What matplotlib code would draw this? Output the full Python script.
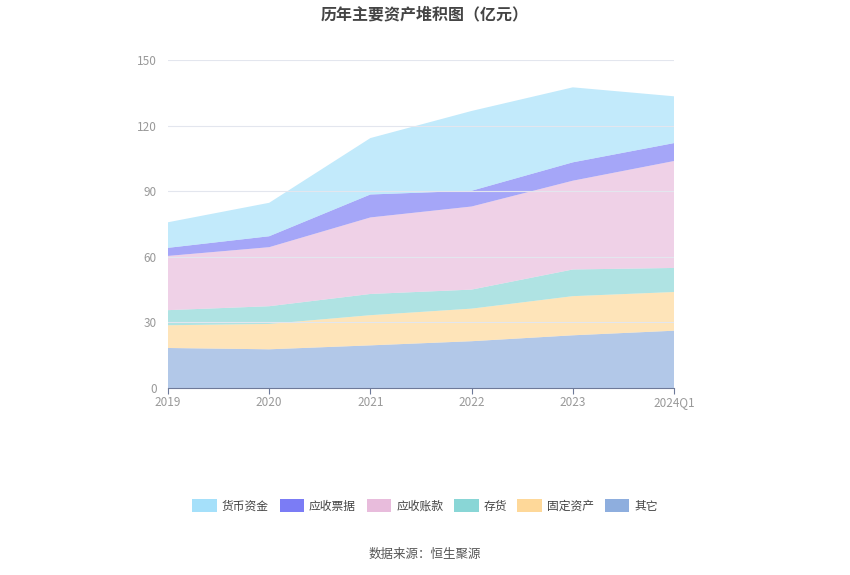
import matplotlib
matplotlib.use('Agg')
import matplotlib.pyplot as plt
from matplotlib.patches import Patch
import numpy as np

plt.rcParams['font.family'] = ['Noto Sans CJK SC', 'DejaVu Sans']

years = ['2019', '2020', '2021', '2022', '2023', '2024Q1']
# stack order from bottom to top
other = [18.3, 17.7, 19.5, 21.4, 24.1, 26.2]
fixed_assets = [10.4, 11.6, 13.8, 14.9, 17.9, 17.7]
inventory = [6.9, 8.1, 9.7, 8.7, 12.2, 11.0]
receivables = [24.8, 27.0, 35.0, 38.0, 40.6, 48.9]
notes_receivable = [3.7, 5.0, 10.5, 7.2, 8.4, 8.2]
cash = [11.7, 15.3, 25.8, 36.5, 34.3, 21.4]

series_names = ['其它', '固定资产', '存货', '应收账款', '应收票据', '货币资金']
series_values = [other, fixed_assets, inventory, receivables, notes_receivable, cash]
colors = ['#8eaede', '#fed899', '#89d6d6', '#e8bcdc', '#7b7cf5', '#a5e0fa']

fig = plt.figure(figsize=(8.5, 5.75), dpi=100)
ax = fig.add_axes([168 / 850, 1 - 388 / 575, (674 - 168) / 850, (388 - 60) / 575])

x = np.arange(len(years))
ax.stackplot(x, *series_values, colors=colors, alpha=0.68, linewidth=0)

ax.set_xlim(0, len(years) - 1)
ax.set_ylim(0, 150)
ax.set_yticks([0, 30, 60, 90, 120, 150])
ax.set_xticks(x)
ax.set_xticklabels(years)
ax.yaxis.grid(True, color='#e3e6ee', linewidth=0.8)
ax.set_axisbelow(False)
for side in ['top', 'right', 'left']:
    ax.spines[side].set_visible(False)
ax.spines['bottom'].set_color('#6e7a99')
ax.tick_params(axis='y', length=0, labelcolor='#999999', labelsize=8.5, pad=8)
ax.tick_params(axis='x', length=4, color='#6e7a99', labelcolor='#999999', labelsize=8.5, pad=2)

fig.text(0.5, 1 - 14 / 575, '历年主要资产堆积图（亿元）', ha='center', va='center',
         fontsize=11.5, fontweight='bold', color='#444444')

# legend in reverse stack order
handles = [Patch(facecolor=c, edgecolor='none') for c in colors[::-1]]
fig.legend(handles, series_names[::-1], loc='center', bbox_to_anchor=(0.5, 1 - 506 / 575),
           ncol=6, frameon=False, fontsize=8.5, handlelength=2.1, handleheight=1.2,
           columnspacing=0.9, handletextpad=0.4, labelcolor='#444444')

fig.text(0.5, 1 - 554 / 575, '数据来源：恒生聚源', ha='center', va='center',
         fontsize=9, color='#555555')

fig.savefig('out.png', dpi=100)
